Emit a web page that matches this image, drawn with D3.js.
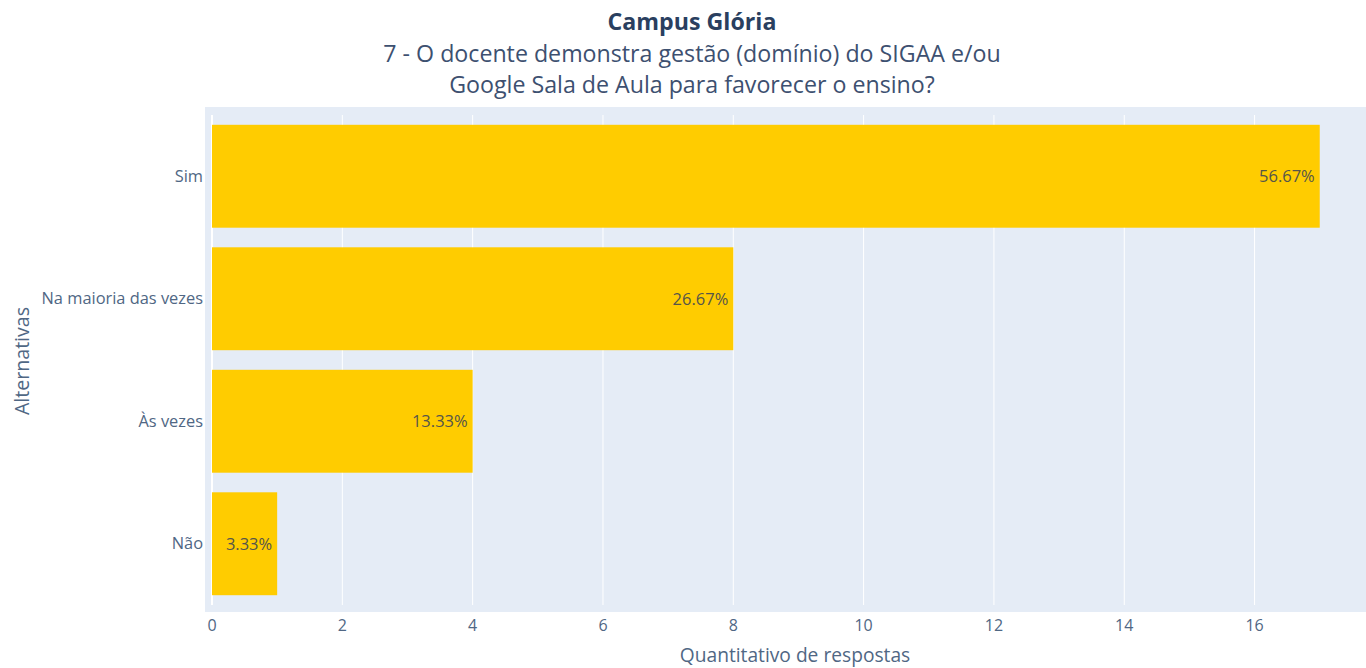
<!DOCTYPE html>
<html>
<head>
<meta charset="utf-8">
<script src="https://cdn.jsdelivr.net/npm/d3@7"></script>
<style>
  body { margin: 0; background: #fff; }
  svg { display: block; font-family: "Open Sans", "Noto Sans", sans-serif; }
</style>
</head>
<body>
<div id="chart"></div>
<script>
// data
const categories = ['Sim', 'Na maioria das vezes', 'Às vezes', 'Não'];
const counts = [17, 8, 4, 1];
const percentLabels = ['56.67%', '26.67%', '13.33%', '3.33%'];
const xTicks = [0, 2, 4, 6, 8, 10, 12, 14, 16];

const width = 1366, height = 668;
const bgLeft = 205, bgTop = 107, bgBottom = 612;
const pad = 7; // inner padding between background and data area

const svg = d3.select('#chart')
  .append('svg')
  .attr('width', width)
  .attr('height', height);

const x = d3.scaleLinear()
  .domain([0, 17.71])
  .range([bgLeft + pad, width]);

const y = d3.scaleBand()
  .domain(categories)
  .range([bgTop + 8, bgBottom - 7])
  .paddingInner(0.16)
  .paddingOuter(0.08);

// plot background
svg.append('rect')
  .attr('x', bgLeft)
  .attr('y', bgTop)
  .attr('width', width - bgLeft)
  .attr('height', bgBottom - bgTop)
  .attr('fill', '#E5ECF6');

// vertical grid
svg.append('g')
  .selectAll('line')
  .data(xTicks)
  .enter()
  .append('line')
  .attr('x1', d => x(d))
  .attr('x2', d => x(d))
  .attr('y1', bgTop + 8)
  .attr('y2', bgBottom - 7)
  .attr('stroke', '#fff')
  .attr('stroke-width', d => d === 0 ? 2 : 1);

const rows = categories.map((c, i) => ({ cat: c, count: counts[i], label: percentLabels[i] }));

svg.append('g')
  .selectAll('rect')
  .data(rows)
  .enter()
  .append('rect')
  .attr('x', x(0))
  .attr('y', d => y(d.cat))
  .attr('width', d => x(d.count) - x(0))
  .attr('height', y.bandwidth())
  .attr('fill', '#FFCC00');

// value labels inside bar ends
svg.append('g')
  .selectAll('text')
  .data(rows)
  .enter()
  .append('text')
  .attr('x', d => x(d.count) - 5)
  .attr('y', d => y(d.cat) + y.bandwidth() / 2)
  .attr('dy', '0.35em')
  .attr('text-anchor', 'end')
  .attr('font-size', 16.5)
  .attr('fill', '#55554a')
  .text(d => d.label);

// y tick labels
svg.append('g')
  .selectAll('text')
  .data(categories)
  .enter()
  .append('text')
  .attr('x', bgLeft - 2)
  .attr('y', d => y(d) + y.bandwidth() / 2)
  .attr('dy', '0.35em')
  .attr('text-anchor', 'end')
  .attr('font-size', 16.4)
  .attr('fill', '#506784')
  .text(d => d);

// x tick labels
svg.append('g')
  .selectAll('text')
  .data(xTicks)
  .enter()
  .append('text')
  .attr('x', d => x(d))
  .attr('y', 631)
  .attr('text-anchor', 'middle')
  .attr('font-size', 16)
  .attr('fill', '#506784')
  .text(d => d);

// axis titles
svg.append('text')
  .attr('x', 795)
  .attr('y', 662)
  .attr('text-anchor', 'middle')
  .attr('font-size', 19.2)
  .attr('fill', '#506784')
  .text('Quantitativo de respostas');

svg.append('text')
  .attr('transform', 'translate(29,361) rotate(-90)')
  .attr('text-anchor', 'middle')
  .attr('font-size', 19.6)
  .attr('fill', '#506784')
  .text('Alternativas');

// title
const title = svg.append('text')
  .attr('text-anchor', 'middle')
  .attr('fill', '#2a3f5f')
  .attr('font-size', 23.2);
title.append('tspan').attr('x', 692).attr('y', 30).attr('font-weight', 'bold')
  .text('Campus Glória');
title.append('tspan').attr('x', 692).attr('y', 62).attr('fill', '#3d5070')
  .text('7 - O docente demonstra gestão (domínio) do SIGAA e/ou');
title.append('tspan').attr('x', 692).attr('y', 93).attr('fill', '#3d5070')
  .text('Google Sala de Aula para favorecer o ensino?');
</script>
</body>
</html>
